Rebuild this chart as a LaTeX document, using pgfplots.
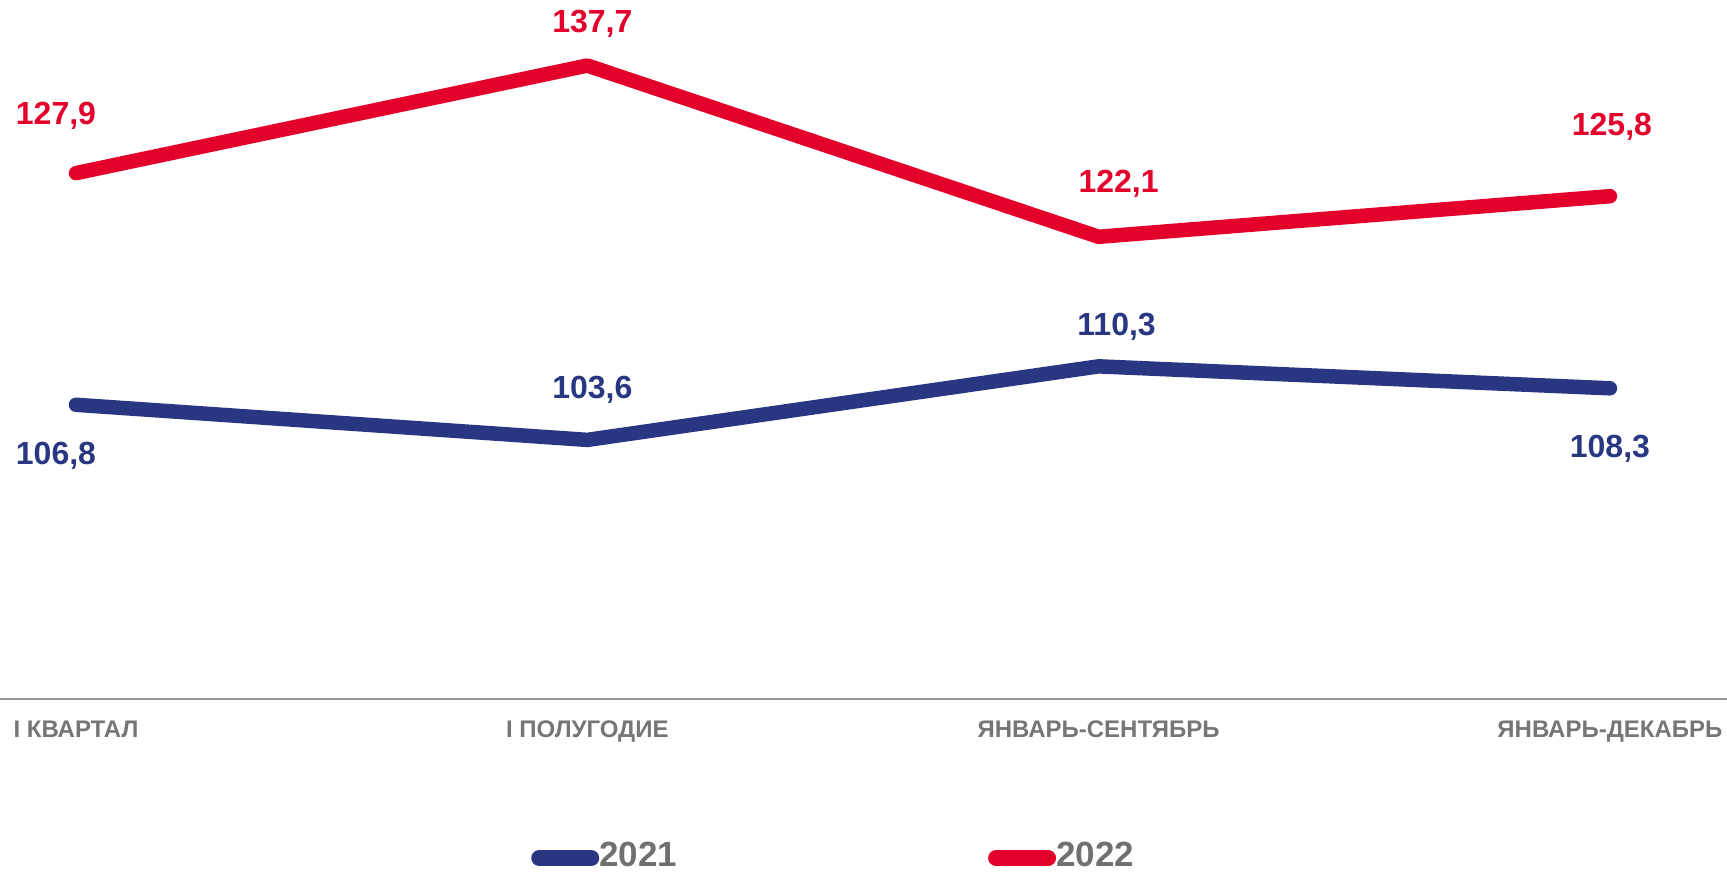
\documentclass[border=0pt]{standalone}
\usepackage{pgfplots}
\pgfplotsset{compat=1.18}
\usepackage{pgfplotstable}
\usepackage{fontspec}
\setmainfont{Liberation Sans}

\definecolor{cblue}{RGB}{41,54,130}
\definecolor{cred}{RGB}{227,0,43}
\definecolor{lblgray}{RGB}{118,118,118}
\definecolor{leggray}{RGB}{112,112,112}
\definecolor{axgray}{RGB}{150,150,150}

% x, value, label offsets (pt)
\pgfplotstableread{
x y lx ly
0 106.8 -10 -25.5
1 103.6 2.5 25.3
2 110.3 9 20
3 108.3 0 -30
}\tblA
\pgfplotstableread{
x y lx ly
0 127.9 -10 28.5
1 137.7 2.5 20.75
2 122.1 10 26.5
3 125.8 1 34.5
}\tblB

\begin{document}
\begin{tikzpicture}
\useasboundingbox (0,0) rectangle (863.5pt,436pt);
\begin{axis}[
  scale only axis,
  width=863.5pt, height=349.5pt,
  at={(0pt,86.5pt)}, anchor=south west,
  xmin=-0.1486, xmax=3.229,
  ymin=80, ymax=143.67,
  clip=false,
  axis y line=none,
  axis x line*=bottom,
  x axis line style={axgray, line width=0.8pt},
  major tick length=0pt,
  xtick={0,1,2,3},
  xticklabels={I КВАРТАЛ, I ПОЛУГОДИЕ, ЯНВАРЬ-СЕНТЯБРЬ, ЯНВАРЬ-ДЕКАБРЬ},
  xticklabel style={font=\bfseries\fontsize{12}{12}\selectfont, text=lblgray, anchor=base, yshift=-19pt},
  ytick=\empty,
  visualization depends on={\thisrow{lx} \as \lblx},
  visualization depends on={\thisrow{ly} \as \lbly},
  nodes near coords,
  nodes near coords style={anchor=center, xshift=\lblx pt, yshift=\lbly pt,
    font=\bfseries\fontsize{16}{16}\selectfont,
    /pgf/number format/use comma, /pgf/number format/fixed,
    /pgf/number format/fixed zerofill, /pgf/number format/precision=1,
    /pgf/number format/assume math mode=true},
  legend columns=-1,
  legend style={draw=none, fill=none, inner sep=0pt, outer sep=0pt,
    at={(0.3076,-0.2246)}, anchor=west,
    font=\bfseries\fontsize{17.5}{17.5}\selectfont, text=leggray,
    nodes={inner sep=0pt},
    /tikz/every even column/.append style={column sep=155.5pt}},
  legend image code/.code={\draw[#1, line width=8pt, line cap=round] (4pt,-1pt) -- (30pt,-1pt);},
]
\addplot[cblue, line width=7.25pt, line cap=round, line join=round, mark=none,
  every node near coord/.append style={text=cblue}] table[x=x, y=y] {\tblA};
\addlegendentry{2021}
\addplot[cred, line width=7.25pt, line cap=round, line join=round, mark=none,
  every node near coord/.append style={text=cred}] table[x=x, y=y] {\tblB};
\addlegendentry{2022}
\end{axis}
\end{tikzpicture}
\end{document}
